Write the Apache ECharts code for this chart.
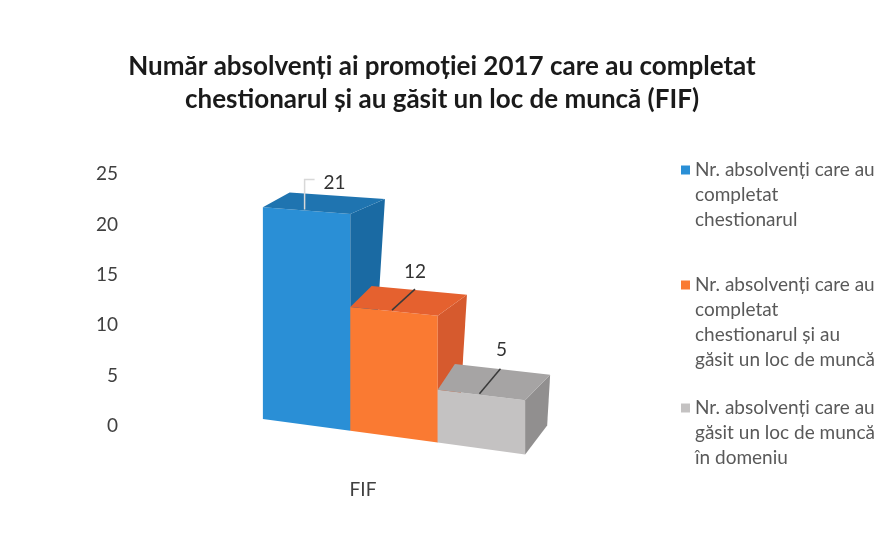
<!DOCTYPE html>
<html>
<head>
<meta charset="utf-8">
<script src="https://cdn.jsdelivr.net/npm/echarts@6/dist/echarts.min.js"></script>
<style>
  html, body { margin: 0; padding: 0; background: #fff; }
  #myChart { width: 884px; height: 549px; }
</style>
</head>
<body>
<div id="myChart"></div>
<script>
// data
const categories = ['FIF'];
const seriesNames = [
  'Nr. absolvenți care au\ncompletat\nchestionarul',
  'Nr. absolvenți care au\ncompletat\nchestionarul și au\ngăsit un loc de muncă',
  'Nr. absolvenți care au\ngăsit un loc de muncă\nîn domeniu'
];
const values = [21, 12, 5];
const yMax = 25;
const yStep = 5;

// face colours: front, top, side
const frontColors = ['#2a8fd6', '#fa7a32', '#c4c2c2'];
const topColors = ['#1f74b0', '#e5612f', '#a6a4a4'];
const sideColors = ['#1a6aa3', '#d65a2e', '#918f8f'];
const leaderColors = ['#d8d8d8', '#3a3a3a', '#3a3a3a'];
// label leader: bend point, end point and text centre, relative to top edge midpoint
const leaderBend = [[0, -30], [23, -21], [21, -25]];
const leaderEnd = [[10, -30], [23, -21], [21, -25]];
const labelPos = [[30, -27], [23, -38], [22, -44]];

const FONT = 'Lato';
const LH = 25;
const legendTops = [170, 285, 408]; // centre of first line for each entry

// fake 3d box: front face leans a little (perspective), depth goes up-right
function renderBox(params, api) {
  const i = params.seriesIndex;
  const v = api.value(1);
  const base = api.coord([api.value(0), 0]);
  const band = api.size([1, 0])[0];
  const unit = api.size([0, 1])[1];
  const w = band * 0.186;
  const xs = base[0] - band * 0.213;
  const x0 = xs + i * w;
  const x1 = x0 + w;
  const lift = 7;
  const slope = val => 0.135 - 0.0028 * val;
  const py = (x, val) => base[1] - lift - val * unit + slope(val) * (x - xs);
  const dep = (x, val) => [22 + 0.6 * val - 0.09 * (x1 - x), -29 + 0.67 * val];

  const fl = [x0, py(x0, v)], fr = [x1, py(x1, v)];
  const bl0 = [x0, py(x0, 0)], br0 = [x1, py(x1, 0)];
  const dl = dep(x0, v), dr = dep(x1, v), d0 = dep(x1, 0);
  const tbl = [fl[0] + dl[0], fl[1] + dl[1]];
  const tbr = [fr[0] + dr[0], fr[1] + dr[1]];
  const sb = [br0[0] + d0[0], br0[1] + d0[1]];

  const mx = (x0 + x1) / 2 - 2;
  const m = [mx, py(mx, v) - 1];
  const rel = p => [m[0] + p[0], m[1] + p[1]];

  return {
    type: 'group',
    children: [
      { type: 'polygon', shape: { points: [bl0, br0, fr, fl] }, style: { fill: frontColors[i] } },
      { type: 'polygon', shape: { points: [fr, tbr, sb, br0] }, style: { fill: sideColors[i] } },
      { type: 'polygon', shape: { points: [fl, fr, tbr, tbl] }, style: { fill: topColors[i] } },
      { type: 'polyline', shape: { points: [m, rel(leaderBend[i]), rel(leaderEnd[i])] },
        style: { stroke: leaderColors[i], lineWidth: 1.5, fill: null } },
      { type: 'text', x: rel(labelPos[i])[0], y: rel(labelPos[i])[1],
        style: { text: String(v), fill: '#333', font: '19px ' + FONT, align: 'center', verticalAlign: 'middle' } }
    ]
  };
}

let myChart = echarts.init(document.getElementById('myChart'));

let series = [];
seriesNames.forEach((name, i) => {
  series.push({
    name: name,
    type: 'custom',
    renderItem: renderBox,
    clip: false,
    itemStyle: { color: frontColors[i] },
    encode: { x: 0, y: 1 },
    data: [[0, values[i]]]
  });
});

// one legend per entry, icon sits on the first text line
let legends = seriesNames.map((name, i) => {
  const n = name.split('\n').length;
  return {
    data: [name],
    orient: 'vertical',
    left: 681,
    top: legendTops[i] - (2 * n - 1) * LH / 2,
    padding: 0,
    icon: 'rect',
    itemWidth: 9,
    itemHeight: 9,
    itemGap: 0,
    selectedMode: false,
    formatter: nm => '\n'.repeat(n - 1) + nm,
    textStyle: {
      fontFamily: FONT,
      fontSize: 19,
      color: '#595959',
      lineHeight: LH
    }
  };
});

let option = {
  backgroundColor: '#fff',
  animation: false,
  title: {
    text: 'Număr absolvenți ai promoției 2017 care au completat\nchestionarul și au găsit un loc de muncă (FIF)',
    left: 'center',
    top: 50,
    padding: [0, 0, 0, 24],
    textStyle: {
      fontFamily: FONT,
      fontSize: 26,
      fontWeight: 'bold',
      color: '#1a1a1a',
      lineHeight: 33
    }
  },
  legend: legends,
  grid: { left: 128, right: 286, top: 174, bottom: 123 },
  xAxis: {
    type: 'category',
    data: categories,
    axisLine: { show: false },
    axisTick: { show: false },
    axisLabel: { margin: 54, fontFamily: FONT, fontSize: 19, color: '#404040' }
  },
  yAxis: {
    type: 'value',
    min: 0,
    max: yMax,
    interval: yStep,
    axisLine: { show: false },
    axisTick: { show: false },
    splitLine: { show: false },
    axisLabel: { margin: 10, fontFamily: FONT, fontSize: 19, color: '#404040' }
  },
  series: series
};
myChart.setOption(option);
</script>
</body>
</html>
